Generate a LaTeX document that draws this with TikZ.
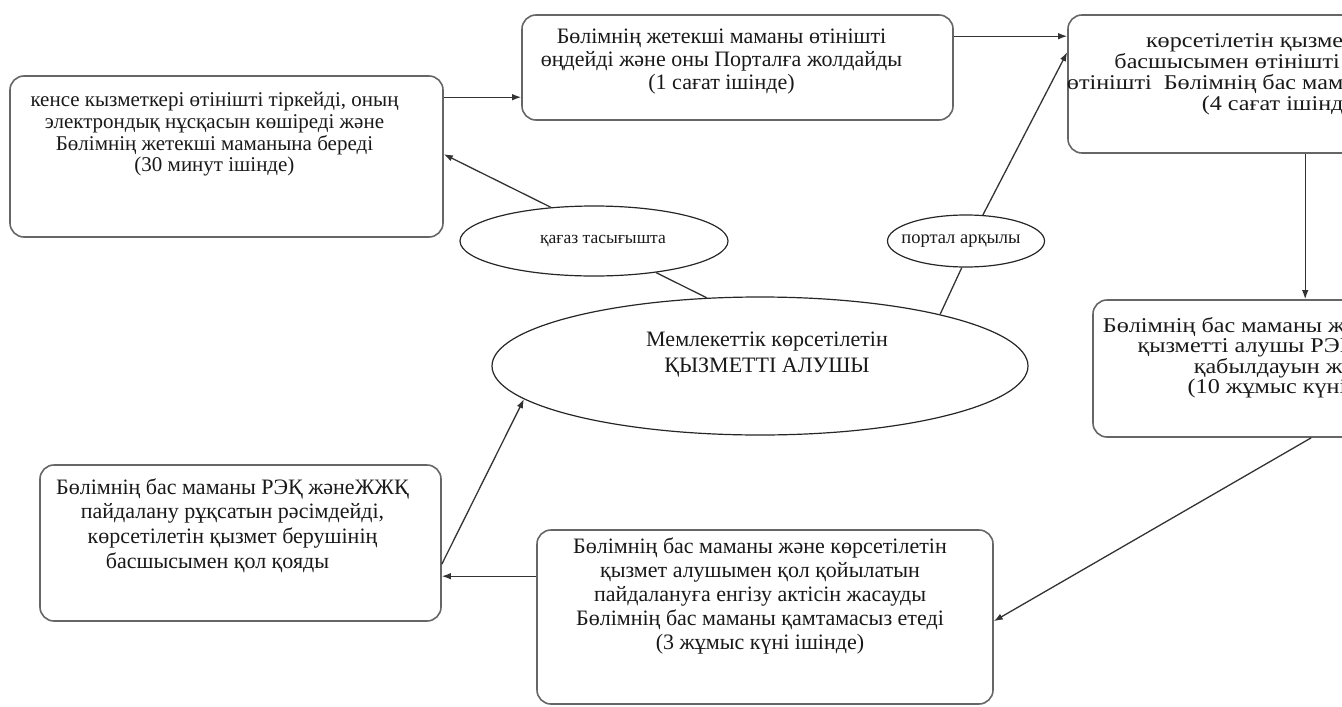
\documentclass[tikz,border=0pt]{standalone}
\usepackage{fontspec}
\setmainfont{Liberation Serif}
\newfontfamily\widefont[FakeStretch=1.15]{Liberation Serif}
\usetikzlibrary{arrows.meta,positioning,shapes.geometric}

\begin{document}
\begin{tikzpicture}[x=1pt,y=-1pt,>={Latex[length=9pt,width=6.5pt]},line join=round,
  box/.style={draw=black!60,line width=1.6pt,rounded corners=14pt,inner sep=0pt},
  txt/.style={align=center,inner sep=0pt,text=black!90,font=\fontsize{22}{24}\selectfont},
  oval/.style={ellipse,draw=black!85,line width=1.2pt,inner sep=0pt},
  conn/.style={draw=black!80,line width=1.3pt}]
  \useasboundingbox (0,0) rectangle (1342,707);
  \clip (0,0) rectangle (1342,707);
  % boxes
  \node[box,minimum width=433pt,minimum height=161pt] (b1) at (226.5,156.5) {};
  \node[box,minimum width=431pt,minimum height=105pt] (b2) at (737.5,67.5) {};
  \node[box,minimum width=432pt,minimum height=138pt] (b3) at (1284,84) {};
  \node[box,minimum width=432pt,minimum height=137pt] (b4) at (1309,368.5) {};
  \node[box,minimum width=456pt,minimum height=174pt] (b5) at (765,617) {};
  \node[box,minimum width=401pt,minimum height=156pt] (b6) at (240.5,543) {};
  \node[txt,font=\fontsize{21}{21.7}\selectfont,below=17pt of b1.north,xshift=-12pt] (t1)
    {кенсе кызметкері өтінішті тіркейді, оның\\электрондық нұсқасын көшіреді және\\Бөлімнің жетекші маманына береді\\(30 минут ішінде)};
  \node[txt,font=\fontsize{22}{23}\selectfont,below=15pt of b2.north,xshift=-16pt] (t2)
    {Бөлімнің жетекші маманы өтінішті\\өңдейді және оны Порталға жолдайды\\(1 сағат ішінде)};
  \node[txt,font=\widefont\fontsize{21}{21}\selectfont,below=18pt of b3.north,xshift=8pt] (t3)
    {\hspace*{26pt}көрсетілетін қызмет берушінің\\\hspace*{20pt}басшысымен өтінішті қарайды және\\өтінішті\ \ Бөлімнің бас маманына жолдайды\\(4 сағат ішінде)\hspace*{20pt}};
  \node[txt,font=\widefont\fontsize{21}{20.3}\selectfont,below=18pt of b4.north,xshift=-1pt] (t4)
    {Бөлімнің бас маманы және көрсетілетін\\қызметті алушы РЭҚ және ЖЖҚ\\қабылдауын жүргізеді\\(10 жұмыс күні ішінде)};
  \node[txt,below=8pt of b5.north,xshift=-5pt] (t5)
    {Бөлімнің бас маманы және көрсетілетін\\қызмет алушымен қол қойылатын\\пайдалануға енгізу актісін жасауды\\Бөлімнің бас маманы қамтамасыз етеді\\(3 жұмыс күні ішінде)};
  \node[txt,font=\fontsize{22}{24.7}\selectfont,below=14pt of b6.north,xshift=-8pt] (t6)
    {Бөлімнің бас маманы РЭҚ жәнеЖЖҚ\\пайдалану рұқсатын рәсімдейді,\\көрсетілетін қызмет берушінің\\басшысымен қол қояды\hspace*{30pt}};
  % ellipses
  \node[oval,minimum width=536pt,minimum height=138pt] (client) at (760,366) {};
  \node[txt,font=\fontsize{22}{26}\selectfont] (ct) at ([xshift=7pt,yshift=11pt]client.center)
    {Мемлекеттік көрсетілетін\\ҚЫЗМЕТТІ АЛУШЫ};
  \node[oval,minimum width=268pt,minimum height=70pt] (paper) at (594,241) {};
  \node[txt,font=\fontsize{17.5}{20}\selectfont] (pt) at ([xshift=9pt]paper.center) {қағаз тасығышта};
  \node[oval,minimum width=157pt,minimum height=52pt] (portal) at (966,241) {};
  \node[txt,font=\fontsize{18.5}{20}\selectfont] (ot) at ([xshift=-5pt]portal.center) {портал арқылы};
  % connectors
  \draw[conn,->] ([yshift=-22pt]b1.north east) -- ([yshift=-22pt]b1.north east -| b2.west);
  \draw[conn,->] ([yshift=-22pt]b2.north east) -- ([yshift=-22pt]b2.north east -| b3.west);
  \draw[conn,->] ([xshift=238pt]b3.south west) -- ([xshift=238pt]b3.south west |- b4.north);
  \draw[conn,->] ([xshift=219pt]b4.south west) -- ([yshift=-92pt]b5.north east);
  \draw[conn,->] ([yshift=-47pt]b5.north west) -- ([yshift=-47pt]b5.north west -| b6.east);
  \draw[conn,->] ([yshift=-100pt]b6.north east) -- (client.188);
  \draw[conn] (client.128) -- (paper.333);
  \draw[conn,->] (paper.142) -- ([yshift=-79pt]b1.north east);
  \draw[conn] (client.16) -- (portal.261);
  \draw[conn,->] (portal.57) -- ([yshift=-38pt]b3.north west);
\end{tikzpicture}
\end{document}
